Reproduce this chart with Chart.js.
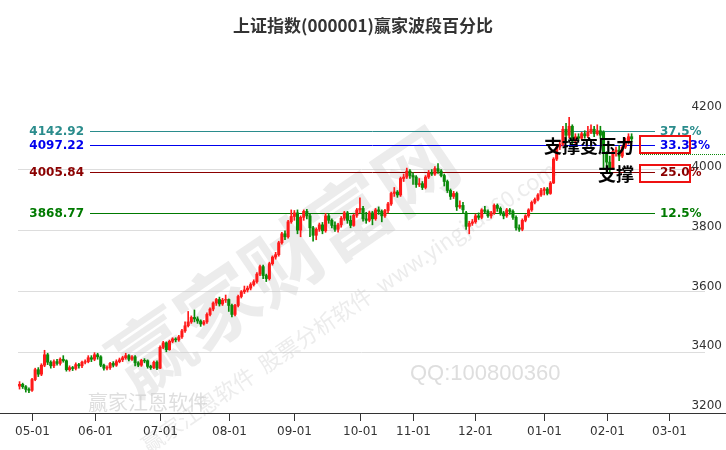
<!DOCTYPE html>
<html><head><meta charset="utf-8">
<script src="https://cdn.jsdelivr.net/npm/chart.js@4"></script>
<style>html,body{margin:0;background:#fff}#c{width:726px;height:450px;display:block}</style>
</head><body>
<canvas id="c" width="726" height="450"></canvas>
<script>
// K线数据 [开,收,高,低]
const apr = [[3290,3296,3305,3280],[3296,3288,3300,3282],[3288,3279,3292,3270],[3279,3276,3284,3268]];
const may = [[3276,3312,3316,3272],[3312,3345,3350,3308],[3345,3330,3352,3322],[3330,3360,3365,3325],[3360,3395,3410,3355],[3395,3370,3400,3362],[3370,3358,3375,3350],[3358,3372,3378,3352],[3372,3366,3380,3360],[3366,3380,3385,3360],[3380,3375,3392,3370],[3375,3345,3378,3340],[3345,3352,3358,3340],[3352,3349,3356,3342],[3349,3362,3368,3344],[3362,3358,3366,3350],[3358,3370,3374,3352],[3370,3372,3378,3364],[3372,3385,3392,3368],[3385,3380,3392,3372]];
const jun = [[3380,3395,3402,3375],[3395,3388,3400,3380],[3388,3360,3392,3355],[3360,3350,3364,3343],[3350,3352,3358,3344],[3352,3366,3370,3346],[3366,3360,3372,3354],[3360,3372,3378,3356],[3372,3378,3384,3368],[3378,3385,3390,3372],[3385,3392,3400,3380],[3392,3380,3396,3374],[3380,3388,3392,3376],[3388,3368,3392,3358],[3368,3360,3372,3355],[3360,3376,3380,3356],[3376,3375,3382,3368],[3375,3356,3378,3350],[3356,3352,3360,3346],[3352,3370,3374,3348],[3370,3350,3375,3345]];
const jul = [[3350,3420,3425,3348],[3420,3435,3440,3415],[3435,3412,3438,3405],[3412,3440,3444,3410],[3440,3448,3452,3435],[3448,3445,3452,3438],[3445,3455,3460,3440],[3455,3475,3480,3450],[3475,3492,3505,3470],[3492,3505,3540,3488],[3505,3520,3525,3500],[3520,3515,3545,3505],[3515,3508,3522,3500],[3508,3498,3512,3490],[3498,3505,3510,3494],[3505,3530,3535,3500],[3530,3548,3552,3525],[3548,3568,3572,3542],[3568,3580,3584,3560],[3580,3565,3588,3558],[3565,3578,3584,3560],[3578,3580,3595,3570]];
const aug = [[3580,3560,3582,3540],[3560,3530,3565,3522],[3530,3560,3564,3525],[3560,3590,3595,3555],[3590,3606,3610,3585],[3606,3612,3625,3600],[3612,3618,3625,3605],[3618,3630,3636,3612],[3630,3640,3646,3625],[3640,3665,3670,3635],[3665,3690,3695,3660],[3690,3660,3695,3650],[3660,3650,3665,3640],[3650,3700,3705,3645],[3700,3722,3726,3695],[3722,3730,3738,3715],[3730,3770,3775,3725],[3770,3800,3805,3765],[3800,3790,3810,3780],[3790,3840,3845,3785],[3840,3858,3880,3835]];
const sep = [[3858,3870,3878,3845],[3870,3812,3880,3800],[3812,3855,3860,3790],[3855,3875,3880,3845],[3875,3860,3882,3850],[3860,3820,3865,3790],[3820,3795,3825,3775],[3795,3815,3820,3780],[3815,3830,3836,3808],[3830,3810,3838,3800],[3810,3860,3868,3805],[3860,3845,3865,3835],[3845,3828,3850,3820],[3828,3815,3840,3808],[3815,3830,3835,3805],[3830,3852,3858,3822],[3852,3870,3875,3845],[3870,3845,3875,3835],[3845,3828,3860,3820],[3828,3862,3866,3825],[3862,3880,3885,3855]];
const oct = [[3880,3885,3920,3870],[3885,3850,3892,3842],[3850,3845,3872,3835],[3845,3870,3876,3840],[3870,3850,3875,3830],[3850,3880,3885,3845],[3880,3875,3890,3865],[3875,3860,3880,3840],[3860,3878,3882,3855],[3878,3900,3905,3870],[3900,3935,3940,3895],[3935,3940,3955,3925],[3940,3930,3945,3922],[3930,3985,3990,3925],[3985,3990,4000,3975],[3990,4010,4020,3985],[4010,3995,4015,3985]];
const nov = [[3995,3990,4005,3965],[3990,3965,3995,3955],[3965,3968,3985,3958],[3968,3955,3975,3948],[3955,3990,3995,3950],[3990,4005,4012,3985],[4005,4000,4015,3995],[4000,4018,4025,3995],[4018,4010,4035,4002],[4010,3995,4015,3990],[3995,3975,4000,3960],[3975,3945,3980,3938],[3945,3925,3950,3915],[3925,3935,3942,3918],[3935,3890,3940,3878],[3890,3895,3910,3885],[3895,3880,3905,3870],[3870,3825,3875,3815],[3825,3835,3842,3800],[3835,3840,3848,3828]];
const dec = [[3840,3860,3866,3835],[3860,3855,3870,3848],[3855,3880,3884,3850],[3880,3875,3892,3868],[3875,3860,3880,3855],[3860,3870,3875,3852],[3870,3895,3900,3865],[3895,3885,3900,3875],[3885,3870,3890,3862],[3870,3860,3875,3850],[3860,3880,3885,3855],[3880,3875,3885,3865],[3875,3855,3880,3848],[3855,3820,3860,3812],[3820,3815,3830,3808],[3815,3845,3850,3810],[3845,3860,3864,3840],[3860,3880,3884,3855],[3880,3905,3910,3875],[3905,3915,3920,3900],[3915,3930,3935,3910],[3930,3945,3952,3925]];
const jan = [[3945,3950,3955,3930],[3950,3935,3955,3930],[3935,3970,3975,3932],[3970,4050,4055,3968],[4050,4090,4095,4045],[4090,4100,4108,4082],[4100,4150,4160,4095],[4150,4130,4170,4110],[4130,4160,4190,4120],[4160,4110,4165,4100],[4110,4125,4135,4100],[4125,4120,4135,4112],[4120,4135,4140,4115],[4135,4128,4145,4120],[4128,4140,4160,4122],[4140,4150,4165,4135],[4150,4135,4160,4125],[4135,4145,4165,4130],[4145,4130,4160,4120],[4140,4070,4145,4020]];
const feb = [[4070,4040,4075,4010],[4040,4020,4060,4005],[4020,4075,4080,4015],[4075,4080,4090,4060],[4080,4060,4095,4045],[4060,4090,4095,4055],[4090,4110,4120,4085],[4110,4125,4135,4100],[4125,4118,4135,4108]];

const monthNames = ["05-01","06-01","07-01","08-01","09-01","10-01","11-01","12-01","01-01","02-01","03-01"];
const monthStart = [4,24,45,67,88,109,126,146,168,188,208];
const totalSlots = 220;

const levelValues = [4142.92, 4097.22, 4005.84, 3868.77];
const levelPct = ["37.5%", "33.33%", "25.0%", "12.5%"];
const levelColors = ["#2a8c8c", "#0000ee", "#8b0000", "#007a00"];
const yTicks = [3200, 3400, 3600, 3800, 4000, 4200];
const lastPrice = 4068;

const candles = [].concat(apr, may, jun, jul, aug, sep, oct, nov, dec, jan, feb);
const labels = [];
for (let i = 0; i < totalSlots; i++) labels.push(String(i));
const bodies = [], wicks = [], cols = [];
for (let i = 0; i < totalSlots; i++) {
  const k = candles[i];
  if (!k) { bodies.push(null); wicks.push(null); cols.push("#000"); continue; }
  let o = k[0], c = k[1];
  if (Math.abs(o - c) < 2) c = o + (c >= o ? 2 : -2);
  bodies.push([o, c]); wicks.push([k[3], k[2]]);
  cols.push(k[1] >= k[0] ? "#ff1a1a" : "#0a8a0a");
}

const draw = {
  id: "draw",
  beforeDatasetsDraw(ch) {
    const c = ch.ctx, y = ch.scales.y, a = ch.chartArea;
    c.save();
    // 水印
    c.fillStyle = "rgba(200,200,200,0.35)";
    c.font = "bold 80px 'Noto Sans CJK SC'";
    c.translate(300, 250); c.rotate(-0.6); c.fillText("赢家财富网", -220, 30); c.setTransform(1,0,0,1,0,0);
    c.font = "22px 'Noto Sans CJK SC'";
    c.translate(330, 330); c.rotate(-0.6); c.fillText("赢家江恩软件  股票分析软件  www.yingjia360.com", -220, 0); c.setTransform(1,0,0,1,0,0);
    c.font = "22px 'Liberation Sans'"; c.fillStyle = "rgba(200,200,200,0.6)";
    c.fillText("QQ:100800360", 410, 380);
    c.font = "20px 'Noto Sans CJK SC'"; c.fillText("赢家江恩软件", 88, 410);
    // 横线
    levelValues.forEach((v, i) => {
      const py = Math.round(y.getPixelForValue(v)) + 0.5;
      c.strokeStyle = levelColors[i]; c.lineWidth = 1;
      c.beginPath(); c.moveTo(90, py); c.lineTo(655, py); c.stroke();
      c.fillStyle = levelColors[i]; c.font = "bold 12px 'DejaVu Sans'";
      c.textAlign = "right"; c.textBaseline = "middle"; c.fillText(levelValues[i].toFixed(2), 84, py);
      c.textAlign = "left"; c.fillText(levelPct[i], 660, py);
    });
    const lp = Math.round(y.getPixelForValue(lastPrice)) + 0.5;
    c.strokeStyle = "#0a8a0a"; c.setLineDash([1, 1]);
    c.beginPath(); c.moveTo(640, lp); c.lineTo(726, lp); c.stroke(); c.setLineDash([]);
    c.restore();
  },
  afterDraw(ch) {
    const c = ch.ctx, x = ch.scales.x, y = ch.scales.y, a = ch.chartArea;
    c.save();
    c.fillStyle = "#333"; c.font = "bold 17px 'Noto Sans CJK SC'"; c.textAlign = "center"; c.textBaseline = "middle";
    c.fillText("上证指数(000001)赢家波段百分比", 363, 26);
    c.fillStyle = "#333"; c.font = "12px 'DejaVu Sans'"; c.textAlign = "right"; c.textBaseline = "bottom";
    yTicks.forEach(v => c.fillText(String(v), 722, y.getPixelForValue(v) - 1));
    c.strokeStyle = "#333"; c.beginPath(); c.moveTo(0, a.bottom + 0.5); c.lineTo(726, a.bottom + 0.5); c.stroke();
    c.textAlign = "center"; c.textBaseline = "top";
    monthStart.forEach((idx, i) => {
      const px = Math.round(x.getPixelForValue(idx)) + 0.5;
      c.beginPath(); c.moveTo(px, a.bottom); c.lineTo(px, a.bottom + 8); c.stroke();
      c.fillText(monthNames[i], px, a.bottom + 13);
    });
    c.strokeStyle = "#ee1111"; c.lineWidth = 2;
    c.strokeRect(640, 136, 50, 17); c.strokeRect(640, 165, 50, 17);
    c.fillStyle = "#000"; c.font = "bold 18px 'Noto Sans CJK SC'"; c.textAlign = "right"; c.textBaseline = "middle";
    c.fillText("支撑变压力", 634, 146); c.fillText("支撑", 634, 174);
    c.restore();
  }
};

new Chart(document.getElementById("c"), {
  type: "bar",
  data: { labels: labels, datasets: [
    { data: wicks, backgroundColor: cols, barThickness: 1, grouped: false },
    { data: bodies, backgroundColor: cols, barThickness: 2.4, grouped: false }
  ]},
  options: {
    responsive: false, animation: false,
    layout: { padding: { top: 48, bottom: 37, left: 18, right: 21 } },
    plugins: { legend: { display: false }, tooltip: { enabled: false } },
    scales: {
      x: { display: false, offset: true },
      y: { min: 3200, max: 4422, ticks: { display: false, stepSize: 200 },
           border: { display: false },
           grid: { color: ctx => ctx.tick.value > 4200 ? "rgba(0,0,0,0)" : "#dddddd", drawTicks: false } }
    }
  },
  plugins: [draw]
});
</script>
</body></html>
